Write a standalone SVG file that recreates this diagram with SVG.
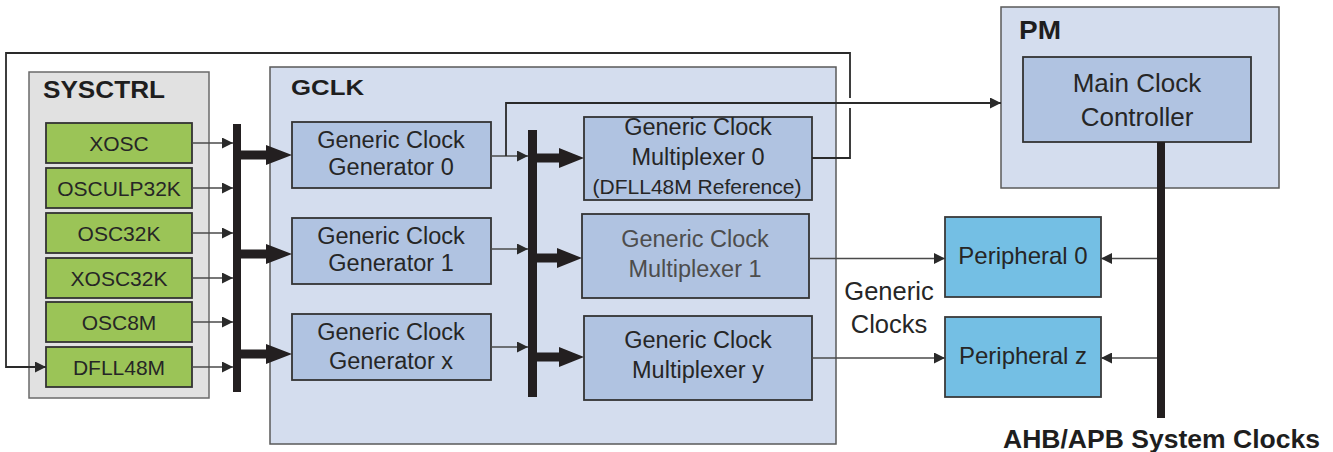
<svg xmlns="http://www.w3.org/2000/svg" width="1333" height="452" viewBox="0 0 1333 452">
<defs>
<style>
text{font-family:"Liberation Sans",Arial,sans-serif;fill:#262626}
.c{text-anchor:middle}
.h{font-weight:bold;fill:#1e1e1e}
.outer{fill:#d4ddee;stroke:#5a5a5a;stroke-width:1.5}
.sys{fill:#e1e1e1;stroke:#6a6a6a;stroke-width:1.5}
.green{fill:#9bc457;stroke:#333;stroke-width:1.8}
.blue{fill:#b0c3e1;stroke:#333;stroke-width:1.8}
.per{fill:#74bfe4;stroke:#3a3a3a;stroke-width:1.8}
.t21{font-size:21px}
.t23{font-size:23.5px}
.t24{font-size:24px}
.ln{fill:none;stroke:#4a4a4a;stroke-width:1.5}
.lnd{fill:none;stroke:#2a2a2a;stroke-width:1.8}
.bar{fill:#231f20}
</style>
<marker id="ah" viewBox="0 0 11 11" refX="11" refY="5.5" markerWidth="11" markerHeight="11" orient="auto" markerUnits="userSpaceOnUse"><path d="M0,0 L11,5.5 L0,11 z" fill="#2a2a2a"/></marker>
</defs>
<rect width="1333" height="452" fill="#fff"/>

<g id="SYSCTRL">
<rect class="sys" x="29" y="72" width="180" height="326"/>
<text class="h" x="43" y="98" font-size="23.5" textLength="122" lengthAdjust="spacingAndGlyphs">SYSCTRL</text>
</g>
<g id="XOSC"><rect class="green" x="46" y="123" width="146" height="40"/><text class="c t21" x="119" y="151">XOSC</text></g>
<g id="OSCULP32K"><rect class="green" x="46" y="168" width="146" height="40"/><text class="c t21" x="119" y="196">OSCULP32K</text></g>
<g id="OSC32K"><rect class="green" x="46" y="213" width="146" height="40"/><text class="c t21" x="119" y="241">OSC32K</text></g>
<g id="XOSC32K"><rect class="green" x="46" y="258" width="146" height="40"/><text class="c t21" x="119" y="286">XOSC32K</text></g>
<g id="OSC8M"><rect class="green" x="46" y="302" width="146" height="40"/><text class="c t21" x="119" y="330">OSC8M</text></g>
<g id="DFLL48M"><rect class="green" x="46" y="347" width="146" height="40"/><text class="c t21" x="119" y="375">DFLL48M</text></g>

<g id="GCLK">
<rect class="outer" x="270" y="67" width="566" height="377"/>
<text class="h" x="291" y="95" font-size="22" textLength="73" lengthAdjust="spacingAndGlyphs">GCLK</text>
</g>
<g id="GCG0"><rect class="blue" x="292" y="122" width="199" height="66"/><text class="c t23" x="391" y="148">Generic Clock</text><text class="c t23" x="391" y="175">Generator 0</text></g>
<g id="GCG1"><rect class="blue" x="292" y="218" width="199" height="66"/><text class="c t23" x="391" y="244">Generic Clock</text><text class="c t23" x="391" y="271">Generator 1</text></g>
<g id="GCGx"><rect class="blue" x="292" y="314" width="199" height="66"/><text class="c t23" x="391" y="340">Generic Clock</text><text class="c t23" x="391" y="369">Generator x</text></g>

<g id="MUX0"><rect class="blue" x="584" y="117" width="228" height="83"/><text class="c t23" x="698" y="135">Generic Clock</text><text class="c t23" x="698" y="165">Multiplexer 0</text><text class="c t21" x="697" y="194">(DFLL48M Reference)</text></g>
<g id="MUX1"><rect class="blue" x="582" y="214" width="227" height="84"/><text class="c t23" x="695" y="247" style="fill:#4d4d4d">Generic Clock</text><text class="c t23" x="695" y="277" style="fill:#4d4d4d">Multiplexer 1</text></g>
<g id="MUXy"><rect class="blue" x="584" y="316" width="228" height="84"/><text class="c t23" x="698" y="348">Generic Clock</text><text class="c t23" x="698" y="378">Multiplexer y</text></g>

<g id="PM">
<rect class="outer" x="1001" y="7" width="278" height="181"/>
<text class="h" x="1019" y="39" font-size="26" textLength="42" lengthAdjust="spacingAndGlyphs">PM</text>
</g>
<g id="MCC"><rect class="blue" x="1023" y="57" width="228" height="85"/><text class="c" x="1137" y="92" font-size="26">Main Clock</text><text class="c" x="1137" y="126" font-size="26">Controller</text></g>

<g id="PER0"><rect class="per" x="945" y="217" width="156" height="80"/><text class="c t24" x="1023" y="264">Peripheral 0</text></g>
<g id="PERz"><rect class="per" x="945" y="317" width="156" height="80"/><text class="c t24" x="1023" y="364">Peripheral z</text></g>

<g id="connectors">
<rect class="bar" x="233" y="124" width="8" height="268"/>
<rect class="bar" x="528" y="130" width="9" height="267"/>
<rect class="bar" x="1157" y="142" width="8" height="276"/>
<path class="ln" marker-end="url(#ah)" d="M192,143 H233"/>
<path class="ln" marker-end="url(#ah)" d="M192,188 H233"/>
<path class="ln" marker-end="url(#ah)" d="M192,233 H233"/>
<path class="ln" marker-end="url(#ah)" d="M192,278 H233"/>
<path class="ln" marker-end="url(#ah)" d="M192,322 H233"/>
<path class="ln" marker-end="url(#ah)" d="M192,367 H233"/>
<path class="bar" d="M241,150.5 H266 V145 L292,155 L266,165 V159.5 H241 z"/>
<path class="bar" d="M241,249.5 H266 V244 L292,254 L266,264 V258.5 H241 z"/>
<path class="bar" d="M241,349.5 H266 V344 L292,354 L266,364 V358.5 H241 z"/>
<path class="ln" marker-end="url(#ah)" d="M491,156 H528"/>
<path class="ln" marker-end="url(#ah)" d="M491,249 H528"/>
<path class="ln" marker-end="url(#ah)" d="M491,347 H528"/>
<path class="bar" d="M537,153.5 H559 V148 L584,158 L559,168 V162.5 H537 z"/>
<path class="bar" d="M537,253.5 H557 V248 L582,258 L557,268 V262.5 H537 z"/>
<path class="bar" d="M537,352.5 H559 V347 L584,357 L559,367 V361.5 H537 z"/>
<path class="lnd" marker-end="url(#ah)" d="M506,156 V103 H1001"/>
<path class="lnd" d="M812,158 H850 V108"/>
<path class="lnd" marker-end="url(#ah)" d="M850,98 V53 H6 V367 H46"/>
<path class="ln" marker-end="url(#ah)" d="M809,258.5 H945"/>
<path class="ln" marker-end="url(#ah)" d="M812,358 H945"/>
<path class="ln" marker-end="url(#ah)" d="M1157,258.5 H1101"/>
<path class="ln" marker-end="url(#ah)" d="M1157,358 H1101"/>
</g>

<text class="c" x="889" y="300" font-size="25.5">Generic</text>
<text class="c" x="889" y="333" font-size="25.5">Clocks</text>
<text class="h" x="1003" y="448" font-size="25.5" textLength="317" lengthAdjust="spacingAndGlyphs">AHB/APB System Clocks</text>
</svg>
